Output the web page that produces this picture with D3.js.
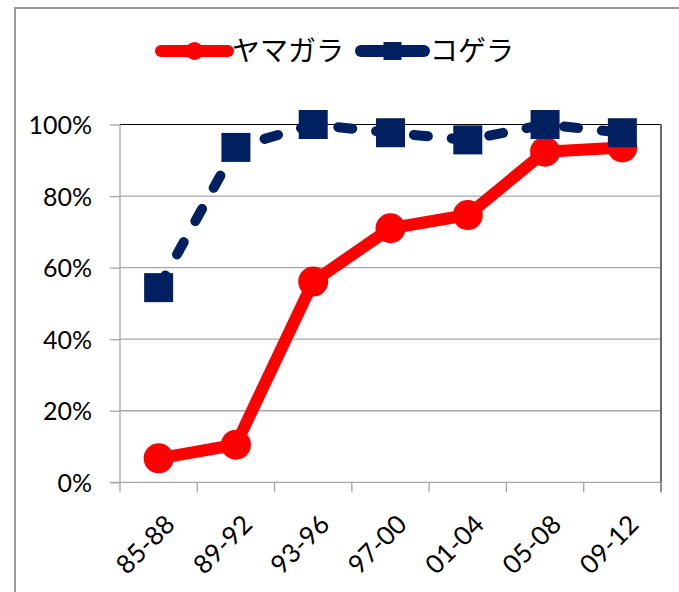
<!DOCTYPE html>
<html>
<head>
<meta charset="utf-8">
<script src="https://cdn.jsdelivr.net/npm/d3@7/dist/d3.min.js"></script>
<style>
  html, body { margin: 0; padding: 0; background: #fff; }
  svg { display: block; }
</style>
</head>
<body>
<svg id="chart" width="679" height="592"></svg>
<script>
// Period categories (x axis)
const periods = ["85-88", "89-92", "93-96", "97-00", "01-04", "05-08", "09-12"];
// Share per period, in percent
const yamagara = [6.7, 10.5, 56.1, 71.0, 74.7, 92.4, 93.6];
const kogera = [54.4, 93.6, 100, 97.7, 95.7, 100, 97.7];
// Y axis ticks
const yTicks = [0, 20, 40, 60, 80, 100];
const seriesNames = ["ヤマガラ", "コゲラ"];

const RED = "#FF0000";
const NAVY = "#002060";
const numFont = "Lato, 'Open Sans', sans-serif";
const jpFont = "'Noto Sans CJK JP', sans-serif";

const svg = d3.select("#chart");

// chart frame
svg.append("rect")
  .attr("x", 15).attr("y", 8)
  .attr("width", 700).attr("height", 620)
  .attr("fill", "#fff")
  .attr("stroke", "#9a9a9a").attr("stroke-width", 2);

const plot = { left: 120, right: 661, top: 124.5, bottom: 482.3 };

const x = d3.scaleBand().domain(periods).range([plot.left, plot.right]);
const y = d3.scaleLinear().domain([0, 100]).range([plot.bottom, plot.top]);
const cx = d => x(d) + x.bandwidth() / 2;

// horizontal gridlines
svg.append("g")
  .selectAll("line")
  .data(yTicks.filter(t => t > 0 && t < 100))
  .join("line")
  .attr("x1", plot.left).attr("x2", plot.right)
  .attr("y1", d => y(d)).attr("y2", d => y(d))
  .attr("stroke", "#a6a6a6").attr("stroke-width", 1.3);

// plot border: top and right edges
svg.append("line")
  .attr("x1", plot.left).attr("x2", plot.right)
  .attr("y1", y(100)).attr("y2", y(100))
  .attr("stroke", "#000").attr("stroke-width", 1.2);
svg.append("line")
  .attr("x1", plot.right).attr("x2", plot.right)
  .attr("y1", y(100)).attr("y2", plot.bottom + 10)
  .attr("stroke", "#6a6a6a").attr("stroke-width", 2);

// Y axis
const yAxis = svg.append("g")
  .attr("transform", `translate(${plot.left},0)`)
  .call(d3.axisLeft(y).tickValues(yTicks).tickSize(10).tickPadding(18)
    .tickFormat(d => d + "%"));
yAxis.select(".domain").attr("stroke", "#a6a6a6").attr("stroke-width", 1.3)
  .attr("d", `M0,${plot.top}V${plot.bottom}`);
yAxis.selectAll(".tick line").attr("stroke", "#a6a6a6").attr("stroke-width", 1.3);
yAxis.selectAll(".tick text")
  .attr("font-family", numFont).attr("font-size", 25).attr("fill", "#000")
  .attr("dy", "0.36em");

// X axis with ticks on band boundaries
const xAxis = svg.append("g")
  .attr("transform", `translate(0,${plot.bottom})`);
xAxis.append("line")
  .attr("x1", plot.left - 10).attr("x2", plot.right)
  .attr("stroke", "#a6a6a6").attr("stroke-width", 1.3);
const bounds = periods.map(p => x(p)).concat([plot.right]);
xAxis.selectAll("line.tk")
  .data(bounds)
  .join("line").attr("class", "tk")
  .attr("x1", d => d).attr("x2", d => d)
  .attr("y1", 0).attr("y2", 10)
  .attr("stroke", "#a6a6a6").attr("stroke-width", 1.3);
xAxis.selectAll("text")
  .data(periods)
  .join("text")
  .attr("transform", d => `translate(${cx(d) + 5},${31}) rotate(-45)`)
  .attr("text-anchor", "end")
  .attr("dy", "0.7em")
  .attr("font-family", numFont).attr("font-size", 26).attr("fill", "#000")
  .text(d => d);

const line = d3.line().x(d => cx(d.p)).y(d => y(d.v));

// ヤマガラ: solid red line with round markers
const yamaData = periods.map((p, i) => ({ p, v: yamagara[i] }));
svg.append("path")
  .datum(yamaData)
  .attr("d", line)
  .attr("fill", "none").attr("stroke", RED).attr("stroke-width", 12)
  .attr("stroke-linejoin", "round");
svg.append("g").selectAll("circle")
  .data(yamaData)
  .join("circle")
  .attr("cx", d => cx(d.p)).attr("cy", d => y(d.v)).attr("r", 15)
  .attr("fill", RED);

// コゲラ: dashed navy line with square markers
const koData = periods.map((p, i) => ({ p, v: kogera[i] }));
svg.append("path")
  .datum(koData)
  .attr("d", line)
  .attr("fill", "none").attr("stroke", NAVY).attr("stroke-width", 10)
  .attr("stroke-linecap", "round").attr("stroke-linejoin", "round")
  .attr("stroke-dasharray", "14,24");
const sq = 29;
svg.append("g").selectAll("rect")
  .data(koData)
  .join("rect")
  .attr("x", d => cx(d.p) - sq / 2).attr("y", d => y(d.v) - sq / 2)
  .attr("width", sq).attr("height", sq)
  .attr("fill", NAVY);

// legend
const legend = svg.append("g").attr("transform", "translate(0,51)");
const leg = [
  { name: seriesNames[0], x0: 161, x1: 228, tx: 232, color: RED, mark: "circle" },
  { name: seriesNames[1], x0: 361, x1: 424, tx: 430, color: NAVY, mark: "rect" }
];
leg.forEach(l => {
  legend.append("line")
    .attr("x1", l.x0).attr("x2", l.x1).attr("y1", 0).attr("y2", 0)
    .attr("stroke", l.color).attr("stroke-width", 12).attr("stroke-linecap", "round");
  const mx = (l.x0 + l.x1) / 2;
  if (l.mark === "circle") {
    legend.append("circle").attr("cx", mx).attr("cy", 0).attr("r", 9).attr("fill", l.color);
  } else {
    legend.append("rect").attr("x", mx - 9).attr("y", -9).attr("width", 18).attr("height", 18)
      .attr("fill", l.color);
  }
  legend.append("text")
    .attr("x", l.tx).attr("y", 0).attr("dy", "0.36em")
    .attr("font-family", jpFont).attr("font-size", 28).attr("fill", "#000")
    .text(l.name);
});
</script>
</body>
</html>
